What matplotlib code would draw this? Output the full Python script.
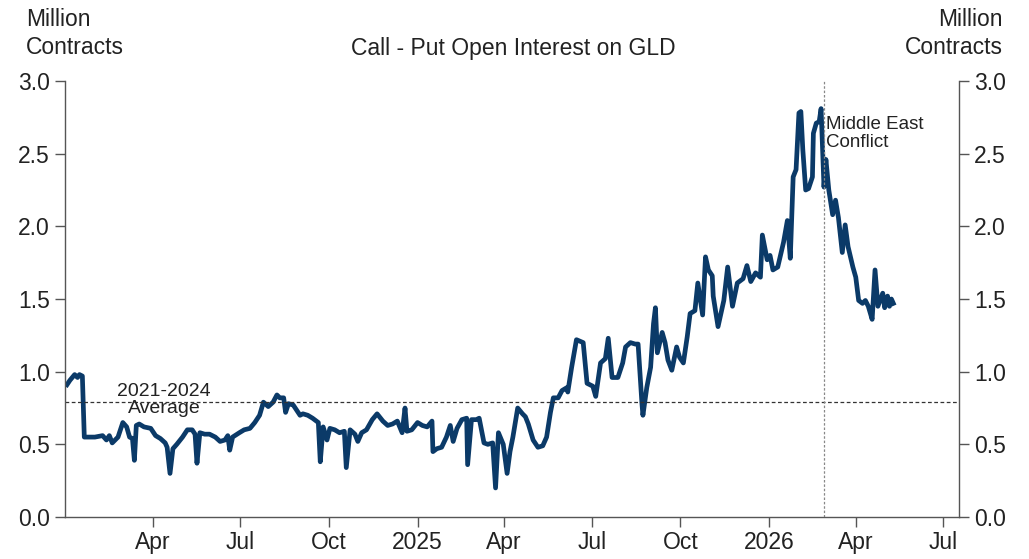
import matplotlib
matplotlib.use("Agg")
import matplotlib.pyplot as plt
import pandas as pd

plt.rcParams['font.family'] = ['Liberation Sans', 'DejaVu Sans']

# call - put open interest on GLD, million contracts
dates = [
    "2024-01-03", "2024-01-06", "2024-01-11", "2024-01-14", "2024-01-16", "2024-01-19",
    "2024-01-21", "2024-01-24", "2024-02-01", "2024-02-09", "2024-02-13", "2024-02-16",
    "2024-02-19", "2024-02-25", "2024-03-01", "2024-03-05", "2024-03-08", "2024-03-11",
    "2024-03-13", "2024-03-15", "2024-03-18", "2024-03-23", "2024-03-30", "2024-04-04",
    "2024-04-09", "2024-04-14", "2024-04-16", "2024-04-19", "2024-04-22", "2024-04-26",
    "2024-05-02", "2024-05-07", "2024-05-12", "2024-05-15", "2024-05-17", "2024-05-20",
    "2024-05-25", "2024-05-30", "2024-06-05", "2024-06-10", "2024-06-15", "2024-06-18",
    "2024-06-20", "2024-06-23", "2024-06-30", "2024-07-05", "2024-07-11", "2024-07-16",
    "2024-07-21", "2024-07-25", "2024-07-30", "2024-08-04", "2024-08-08", "2024-08-11",
    "2024-08-15", "2024-08-17", "2024-08-20", "2024-08-25", "2024-08-29", "2024-09-01",
    "2024-09-04", "2024-09-09", "2024-09-14", "2024-09-20", "2024-09-22", "2024-09-25",
    "2024-09-29", "2024-10-02", "2024-10-07", "2024-10-12", "2024-10-17", "2024-10-19",
    "2024-10-23", "2024-10-28", "2024-10-31", "2024-11-04", "2024-11-09", "2024-11-15",
    "2024-11-20", "2024-11-26", "2024-12-01", "2024-12-06", "2024-12-11", "2024-12-16",
    "2024-12-19", "2024-12-21", "2024-12-26", "2025-01-01", "2025-01-06", "2025-01-11",
    "2025-01-16", "2025-01-17", "2025-01-21", "2025-01-26", "2025-01-31", "2025-02-04",
    "2025-02-07", "2025-02-11", "2025-02-16", "2025-02-21", "2025-02-22", "2025-02-26",
    "2025-03-03", "2025-03-06", "2025-03-11", "2025-03-15", "2025-03-20", "2025-03-23",
    "2025-03-26", "2025-03-31", "2025-04-04", "2025-04-07", "2025-04-10", "2025-04-15",
    "2025-04-20", "2025-04-23", "2025-04-26", "2025-05-01", "2025-05-06", "2025-05-11",
    "2025-05-15", "2025-05-19", "2025-05-22", "2025-05-27", "2025-05-31", "2025-06-05",
    "2025-06-06", "2025-06-10", "2025-06-15", "2025-06-22", "2025-06-26", "2025-07-02",
    "2025-07-05", "2025-07-10", "2025-07-15", "2025-07-18", "2025-07-22", "2025-07-28",
    "2025-08-02", "2025-08-05", "2025-08-10", "2025-08-15", "2025-08-18", "2025-08-22",
    "2025-08-23", "2025-08-27", "2025-08-31", "2025-09-03", "2025-09-05", "2025-09-07",
    "2025-09-12", "2025-09-15", "2025-09-18", "2025-09-22", "2025-09-27", "2025-09-30",
    "2025-10-04", "2025-10-08", "2025-10-11", "2025-10-16", "2025-10-19", "2025-10-24",
    "2025-10-27", "2025-10-30", "2025-11-03", "2025-11-04", "2025-11-09", "2025-11-15",
    "2025-11-19", "2025-11-24", "2025-11-29", "2025-12-05", "2025-12-09", "2025-12-13",
    "2025-12-18", "2025-12-23", "2025-12-25", "2025-12-30", "2026-01-02", "2026-01-05",
    "2026-01-10", "2026-01-16", "2026-01-20", "2026-01-23", "2026-01-26", "2026-01-29",
    "2026-02-01", "2026-02-03", "2026-02-05", "2026-02-08", "2026-02-11", "2026-02-15",
    "2026-02-16", "2026-02-19", "2026-02-22", "2026-02-24", "2026-02-27", "2026-03-01",
    "2026-03-04", "2026-03-08", "2026-03-11", "2026-03-14", "2026-03-18", "2026-03-21",
    "2026-03-24", "2026-03-29", "2026-04-01", "2026-04-04", "2026-04-08", "2026-04-11",
    "2026-04-14", "2026-04-18", "2026-04-21", "2026-04-24", "2026-04-29", "2026-05-01",
    "2026-05-04", "2026-05-06", "2026-05-08", "2026-05-10",
]
values = [
    0.91, 0.94, 0.98, 0.96, 0.98, 0.97,
    0.55, 0.55, 0.55, 0.56, 0.53, 0.56,
    0.51, 0.55, 0.65, 0.62, 0.55, 0.54,
    0.39, 0.63, 0.64, 0.62, 0.61, 0.56,
    0.54, 0.51, 0.48, 0.30, 0.47, 0.50,
    0.55, 0.60, 0.60, 0.57, 0.37, 0.58,
    0.57, 0.57, 0.55, 0.52, 0.53, 0.56,
    0.46, 0.55, 0.58, 0.60, 0.61, 0.65,
    0.70, 0.79, 0.76, 0.79, 0.84, 0.82,
    0.82, 0.72, 0.78, 0.77, 0.73, 0.70,
    0.71, 0.70, 0.68, 0.65, 0.38, 0.62,
    0.53, 0.61, 0.60, 0.58, 0.59, 0.34,
    0.60, 0.57, 0.52, 0.58, 0.60, 0.67,
    0.71, 0.66, 0.63, 0.64, 0.66, 0.58,
    0.75, 0.59, 0.60, 0.65, 0.63, 0.62,
    0.66, 0.45, 0.47, 0.48, 0.55, 0.63,
    0.52, 0.61, 0.67, 0.68, 0.36, 0.67,
    0.67, 0.68, 0.51, 0.50, 0.51, 0.20,
    0.58, 0.50, 0.30, 0.45, 0.55, 0.75,
    0.71, 0.69, 0.64, 0.53, 0.48, 0.49,
    0.55, 0.72, 0.82, 0.82, 0.87, 0.89,
    0.86, 1.03, 1.22, 1.20, 0.92, 0.90,
    0.83, 1.06, 1.09, 1.23, 0.96, 0.96,
    1.06, 1.17, 1.20, 1.19, 1.19, 0.78,
    0.70, 0.89, 1.03, 1.33, 1.44, 1.13,
    1.27, 1.20, 1.08, 1.01, 1.17, 1.10,
    1.06, 1.24, 1.40, 1.42, 1.61, 1.39,
    1.79, 1.70, 1.66, 1.52, 1.31, 1.49,
    1.72, 1.45, 1.61, 1.64, 1.73, 1.62,
    1.68, 1.65, 1.94, 1.77, 1.80, 1.70,
    1.72, 1.89, 2.04, 1.78, 2.34, 2.39,
    2.78, 2.79, 2.53, 2.25, 2.26, 2.34,
    2.64, 2.71, 2.72, 2.81, 2.27, 2.46,
    2.25, 2.08, 2.18, 2.06, 1.82, 2.01,
    1.86, 1.72, 1.65, 1.49, 1.47, 1.49,
    1.45, 1.36, 1.70, 1.45, 1.54, 1.44,
    1.52, 1.45, 1.50, 1.47,
]

avg_2021_2024 = 0.79
conflict_date = "2026-02-27"

tick_dates = ["2024-04-01", "2024-07-01", "2024-10-01", "2025-01-01", "2025-04-01",
              "2025-07-01", "2025-10-01", "2026-01-01", "2026-04-01", "2026-07-01"]
tick_labels = ["Apr", "Jul", "Oct", "2025", "Apr", "Jul", "Oct", "2026", "Apr", "Jul"]

x = pd.to_datetime(dates)
navy = "#0b3a68"
grey = "#555555"

fig = plt.figure(figsize=(10.29, 5.59), dpi=100)
ax = fig.add_axes([0.0632, 0.0751, 0.8686, 0.7800])

ax.plot(x, values, color=navy, lw=3.4, solid_joinstyle="round")
ax.axhline(avg_2021_2024, color="#333333", lw=0.9, ls=(0, (3, 2)))
ax.axvline(pd.Timestamp(conflict_date), color="#888888", lw=0.9, ls=(0, (2, 1.5)))

ax.text(pd.Timestamp("2024-04-13"), 0.805, "2021-2024\nAverage", ha="center", va="center",
        fontsize=14, color="#222222", linespacing=1.05)
ax.text(pd.Timestamp("2026-03-01"), 2.76, "Middle East\nConflict", ha="left", va="top",
        fontsize=13.5, color="#222222", linespacing=1.05)

ax.set_xlim(pd.Timestamp("2024-01-01"), pd.Timestamp("2026-07-17"))
ax.set_ylim(0, 3.0)
ax.set_yticks([0, 0.5, 1.0, 1.5, 2.0, 2.5, 3.0])
ax.yaxis.set_major_formatter(matplotlib.ticker.FormatStrFormatter("%.1f"))
ax.set_xticks(pd.to_datetime(tick_dates))
ax.set_xticklabels(tick_labels)

ax.spines["top"].set_visible(False)
for s in ["left", "right", "bottom"]:
    ax.spines[s].set_color(grey)
    ax.spines[s].set_linewidth(1.0)

ax.tick_params(axis="both", direction="out", length=7, width=1.0, color=grey,
               labelsize=16.5, labelcolor="#222222")
ax.tick_params(axis="y", left=True, right=True, labelleft=True, labelright=True, pad=4)
ax.tick_params(axis="x", pad=3)

fig.text(26 / 1029, 1 - 8 / 559, "Million\nContracts", ha="left", va="top",
         fontsize=16.5, color="#222222", linespacing=1.3)
fig.text(1003 / 1029, 1 - 8 / 559, "Million\nContracts", ha="right", va="top",
         fontsize=16.5, color="#222222", linespacing=1.3, multialignment="right")
fig.text(513 / 1029, 1 - 48 / 559, "Call - Put Open Interest on GLD", ha="center", va="center",
         fontsize=16.5, color="#222222")

fig.savefig("out.png", dpi=100, facecolor="white")
